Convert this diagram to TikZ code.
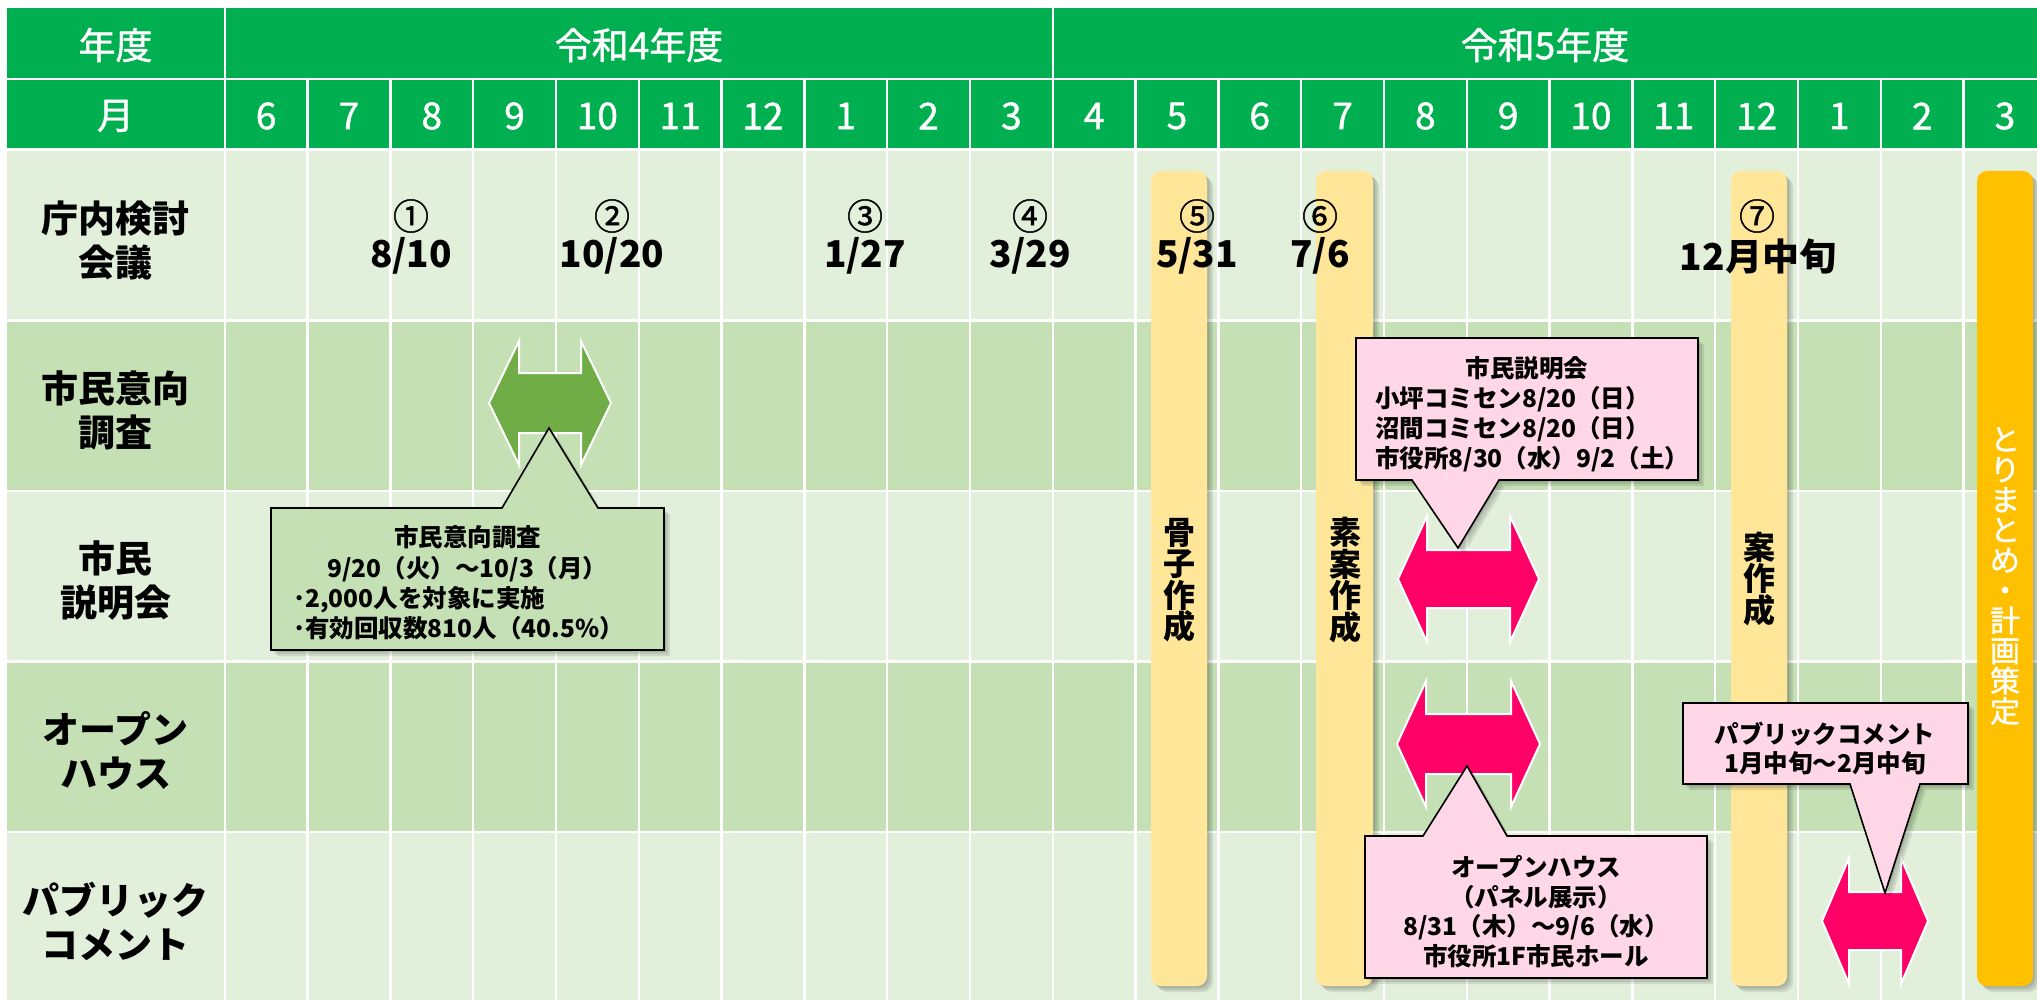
\documentclass[tikz,border=0pt]{standalone}
\usepackage{fontspec}
\setmainfont{Noto Sans CJK JP}
\newfontfamily\jpmed[FakeBold=1.2]{Noto Sans CJK JP}
\definecolor{hdr}{HTML}{00B050}
\definecolor{rowA}{HTML}{E2EFDA}
\definecolor{rowB}{HTML}{C5E0B4}
\definecolor{garrow}{HTML}{70AD47}
\definecolor{parrow}{HTML}{FF0066}
\definecolor{pinkbox}{HTML}{FFD7E6}
\definecolor{barYellow}{HTML}{FFE699}
\definecolor{barOrange}{HTML}{FFC000}
\tikzset{
  hdrtxt/.style={text=white, inner sep=0pt, font=\fontsize{37}{40}\selectfont\jpmed},
  lbl/.style={align=center, inner sep=0pt, font=\fontsize{37}{44}\selectfont\bfseries},
  circ/.style={inner sep=0pt, font=\fontsize{36}{36}\selectfont\jpmed},
  datetxt/.style={inner sep=0pt, font=\fontsize{37}{40}\selectfont\bfseries},
  bartxt/.style={align=center, inner sep=0pt, font=\fontsize{32}{31.5}\selectfont\bfseries},
  ctxt/.style={inner sep=0pt, anchor=base, font=\fontsize{24.5}{30}\selectfont\bfseries},
  ctxtl/.style={ctxt, anchor=base west},
  callout/.style={draw=black, line width=1.6pt, line join=miter},
  arrowshape/.style={draw=white, line width=2pt, line join=miter},
}
\newcommand\mybar[3]{%
  \foreach \s in {2,4,6} {\fill[black,opacity=0.09,rounded corners=10pt] (#1+\s,171+\s) rectangle (#2+\s,986+\s);}
  \fill[#3,rounded corners=10pt] (#1,171) rectangle (#2,986);
}
\newcommand\dblarr[7]{%
  \path[fill=#7, arrowshape] (#1,#3) -- (#1+#4,#3-#5) -- (#1+#4,#3-#6) -- (#2-#4,#3-#6) -- (#2-#4,#3-#5) -- (#2,#3)
    -- (#2-#4,#3+#5) -- (#2-#4,#3+#6) -- (#1+#4,#3+#6) -- (#1+#4,#3+#5) -- cycle;
}
\newcommand\shadowed[2]{%
  \foreach \s in {2,4,6} {\begin{scope}[shift={(\s,\s)}]\fill[black,opacity=0.09] #1;\end{scope}}
  \path[fill=#2, callout] #1;
}
\begin{document}
\begin{tikzpicture}[x=1pt,y=-1pt]
\useasboundingbox (0,0) rectangle (2037,1000);
\fill[white] (0,0) rectangle (2037,1000);
% header row 1
\fill[hdr] (7,8) rectangle (224,78);
\fill[hdr] (226,8) rectangle (1051.5,78);
\fill[hdr] (1054,8) rectangle (2037,78);
% header row 2
\fill[hdr] (7,80.5) rectangle (224,148);
\foreach \i in {0,...,21} {\fill[hdr] (226+82.8*\i,80.5) rectangle (226+82.8*\i+80.3,148);}
% body rows
\foreach \r/\c in {0/rowA,1/rowB,2/rowA,3/rowB,4/rowA} {
  \fill[\c] (7,151+170.5*\r) rectangle (224,151+170.5*\r+168);
  \foreach \i in {0,...,21} {\fill[\c] (226+82.8*\i,151+170.5*\r) rectangle (226+82.8*\i+80.3,151+170.5*\r+168);}
}
% header texts
\node[hdrtxt] (nendo) at (115.5,45) {年度};
\node[hdrtxt] (fy4) at (639,45) {令和4年度};
\node[hdrtxt] (fy5) at (1545,45) {令和5年度};
\node[hdrtxt] (tsuki) at (115.5,116) {月};
\foreach \m [count=\i from 0] in {6,7,8,9,10,11,12,1,2,3,4,5,6,7,8,9,10,11,12,1,2,3}
  {\node[hdrtxt] (m\i) at (226+82.8*\i+40.15,116) {\m};}
% row labels
\node[lbl] (lab1) at (115.5,240) {庁内検討\\会議};
\node[lbl] (lab2) at (115.5,410) {市民意向\\調査};
\node[lbl] (lab3) at (115.5,581) {市民\\説明会};
\node[lbl] (lab4) at (115.5,751) {オープン\\ハウス};
\node[lbl] (lab5) at (115.5,921) {パブリック\\コメント};
% bars
\mybar{1151}{1207}{barYellow}
\mybar{1316}{1373}{barYellow}
\mybar{1731}{1787}{barYellow}
\mybar{1977}{2033}{barOrange}
% meetings
\node[circ] (c1) at (411,216) {①};  \node[datetxt] (d1) at (411,256) {8/10};
\node[circ] (c2) at (612,216) {②};  \node[datetxt] (d2) at (612,256) {10/20};
\node[circ] (c3) at (865,216) {③};  \node[datetxt] (d3) at (865,256) {1/27};
\node[circ] (c4) at (1030,216) {④}; \node[datetxt] (d4) at (1030,256) {3/29};
\node[circ] (c5) at (1197,216) {⑤}; \node[datetxt] (d5) at (1197,256) {5/31};
\node[circ] (c6) at (1320,216) {⑥}; \node[datetxt] (d6) at (1320,256) {7/6};
\node[circ] (c7) at (1757,216) {⑦}; \node[datetxt] (d7) at (1758,256) {12月中旬};
% bar texts
\node[bartxt] (bt1) at (1179,580) {骨\\子\\作\\成};
\node[bartxt] (bt2) at (1345,580) {素\\案\\作\\成};
\node[bartxt] (bt3) at (1759,579) {案\\作\\成};
\node[bartxt, text=white, font=\fontsize{30}{30.2}\selectfont\jpmed] (bt4) at (2005,576) {と\\り\\ま\\と\\め\\・\\計\\画\\策\\定};
% arrows
\dblarr{489}{611}{403}{30}{62}{30}{garrow}
\dblarr{1398}{1539}{579}{29}{63}{29}{parrow}
\dblarr{1397}{1540}{744}{29}{63}{30}{parrow}
\dblarr{1822}{1928}{921}{27}{63}{29}{parrow}
% callouts
\shadowed{(271,508) -- (502,508) -- (549,428) -- (598,508) -- (664,508) -- (664,650) -- (271,650) -- cycle}{rowB}
\node[ctxt] (g1) at (467.5,546) {市民意向調査};
\node[ctxt] (g2) at (467.5,577) {9/20（火）～10/3（月）};
\node[ctxtl] (g3) at (293,607) {･2,000人を対象に実施};
\node[ctxtl] (g4) at (293,637) {･有効回収数810人（40.5\%）};

\shadowed{(1356,338) -- (1698,338) -- (1698,480) -- (1499,480) -- (1458,548) -- (1412,480) -- (1356,480) -- cycle}{pinkbox}
\node[ctxt] (p1a) at (1527,377) {市民説明会};
\node[ctxtl] (p1b) at (1375,407) {小坪コミセン8/20（日）};
\node[ctxtl] (p1c) at (1375,437) {沼間コミセン8/20（日）};
\node[ctxtl] (p1d) at (1375,467) {市役所8/30（水）9/2（土）};

\shadowed{(1365,836) -- (1423,836) -- (1467,766) -- (1507,836) -- (1707,836) -- (1707,978) -- (1365,978) -- cycle}{pinkbox}
\node[ctxt] (p2a) at (1536,876) {オープンハウス};
\node[ctxt] (p2b) at (1536,906) {（パネル展示）};
\node[ctxt] (p2c) at (1536,935) {8/31（木）～9/6（水）};
\node[ctxt] (p2d) at (1536,965) {市役所1F市民ホール};

\shadowed{(1683,703) -- (1968,703) -- (1968,784) -- (1920,784) -- (1885,893) -- (1850,784) -- (1683,784) -- cycle}{pinkbox}
\node[ctxt] (p3a) at (1825,743) {パブリックコメント};
\node[ctxt] (p3b) at (1825,772) {1月中旬～2月中旬};
\end{tikzpicture}
\end{document}
